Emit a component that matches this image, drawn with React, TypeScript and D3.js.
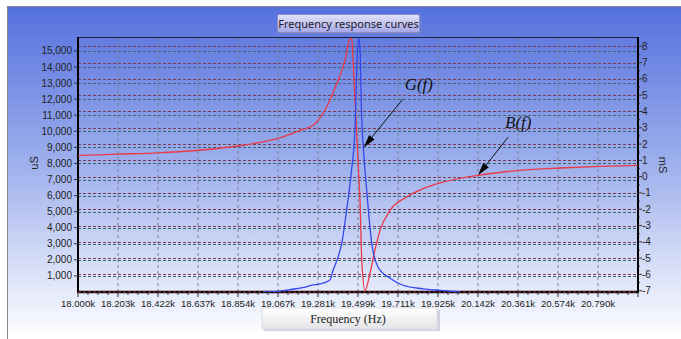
import React, { useEffect, useRef } from 'react';
import * as d3 from 'd3';

// x axis tick values (Hz) as printed on the chart, plus the right edge of the plot
const xTickHz = [18000, 18203, 18422, 18637, 18854, 19067, 19281, 19499, 19711, 19925, 20142, 20361, 20574, 20790];
const xEndHz = 21005;

const leftTicks = [1000, 2000, 3000, 4000, 5000, 6000, 7000, 8000, 9000, 10000, 11000, 12000, 13000, 14000, 15000];
const rightTicks = [-7, -6, -5, -4, -3, -2, -1, 0, 1, 2, 3, 4, 5, 6, 7, 8];

// B(f), susceptance in mS (right axis)
const bFreq = [18000, 18203, 18422, 18637, 18854, 18960, 19067, 19185, 19265, 19328, 19383, 19428, 19455, 19465, 19473, 19488, 19499, 19510, 19519, 19536, 19563, 19589, 19616, 19669, 19758, 19845, 19936, 20142, 20372, 20585, 20801, 21005];
const bValue = [1.30, 1.38, 1.46, 1.62, 1.88, 2.08, 2.35, 2.84, 3.25, 4.27, 5.70, 7.13, 8.47, 8.50, 6.95, 3.5, 1.0, -1.64, -5.1, -7.0, -5.9, -4.5, -3.3, -2.07, -1.25, -0.74, -0.39, 0.08, 0.39, 0.53, 0.63, 0.69];

// G(f), conductance in uS (left axis)
const gFreq = [18987, 19067, 19131, 19206, 19249, 19291, 19346, 19363, 19385, 19410, 19437, 19464, 19482, 19496, 19503, 19510, 19518, 19527, 19536, 19554, 19572, 19605, 19669, 19738, 19845, 19936, 20044];
const gValue = [0, 40, 150, 290, 430, 500, 750, 1350, 2000, 3000, 5100, 7600, 10000, 15000, 15800, 15000, 11000, 9000, 7600, 5100, 3000, 1560, 850, 420, 200, 100, 0];

// annotation anchor points on the curves
const gLabel = { text: 'G(f)', hz: 19529, value: 9000 };
const bLabel = { text: 'B(f)', hz: 20142, value: 0.08 };

const App = () => {
    const svgRef = useRef(null);

    useEffect(() => {
        const svg = d3.select(svgRef.current);
        svg.selectAll('*').remove();

        const W = 681, H = 339;
        const left = 78, right = 638, top = 37, bottom = 292;

        const defs = svg.append('defs');
        const bg = defs.append('linearGradient').attr('id', 'bg')
            .attr('x1', 0).attr('y1', 0).attr('x2', 0).attr('y2', 1);
        bg.append('stop').attr('offset', '0%').attr('stop-color', '#5470de');
        bg.append('stop').attr('offset', '45%').attr('stop-color', '#98abeb');
        bg.append('stop').attr('offset', '100%').attr('stop-color', '#fbfcff');
        const tg = defs.append('linearGradient').attr('id', 'titleg')
            .attr('x1', 0).attr('y1', 0).attr('x2', 0).attr('y2', 1);
        tg.append('stop').attr('offset', '0%').attr('stop-color', '#e2e2fa');
        tg.append('stop').attr('offset', '100%').attr('stop-color', '#a6a6e6');
        const xg = defs.append('linearGradient').attr('id', 'xlabg')
            .attr('x1', 0).attr('y1', 0).attr('x2', 0).attr('y2', 1);
        xg.append('stop').attr('offset', '0%').attr('stop-color', '#ffffff');
        xg.append('stop').attr('offset', '100%').attr('stop-color', '#e4e4e8');
        defs.append('clipPath').attr('id', 'plotclip')
            .append('rect').attr('x', left).attr('y', top).attr('width', right - left).attr('height', bottom - top);

        // background panel
        svg.append('rect').attr('width', W).attr('height', H).attr('fill', '#fff');
        svg.append('rect').attr('x', 7).attr('y', 6).attr('width', W - 7).attr('height', 326).attr('fill', 'url(#bg)');
        svg.append('path').attr('d', `M7.5,${H}V6.5H${W}`).attr('fill', 'none').attr('stroke', '#8a8a8a');

        // scales
        const xDomain = [...xTickHz, xEndHz];
        const x = d3.scaleLinear()
            .domain(xDomain)
            .range(xDomain.map((d, i) => left + i * (right - left) / (xDomain.length - 1)));
        const yL = d3.scaleLinear().domain([0, 15870]).range([bottom, top]);
        const yR = d3.scaleLinear().domain([-7.08, 8.57]).range([bottom, top]);

        // vertical grid
        svg.append('g').selectAll('line').data(xTickHz.slice(1)).enter().append('line')
            .attr('x1', d => x(d)).attr('x2', d => x(d))
            .attr('y1', top).attr('y2', bottom)
            .attr('stroke', '#7d7f92').attr('stroke-dasharray', '3,3').attr('stroke-width', 1);

        // horizontal grids, one per axis
        svg.append('g').selectAll('line').data(rightTicks).enter().append('line')
            .attr('x1', left).attr('x2', right)
            .attr('y1', d => Math.round(yR(d)) + 0.5).attr('y2', d => Math.round(yR(d)) + 0.5)
            .attr('stroke', '#7a3a50').attr('stroke-dasharray', '3,2').attr('stroke-width', 1.2);
        svg.append('g').selectAll('line').data(leftTicks).enter().append('line')
            .attr('x1', left).attr('x2', right)
            .attr('y1', d => Math.round(yL(d)) + 0.5).attr('y2', d => Math.round(yL(d)) + 0.5)
            .attr('stroke', '#3b6670').attr('stroke-dasharray', '3,2').attr('stroke-width', 1.2);

        // frame
        svg.append('line').attr('x1', left).attr('x2', right).attr('y1', top + 0.5).attr('y2', top + 0.5)
            .attr('stroke', '#1a2040').attr('stroke-width', 1);
        svg.append('line').attr('x1', left).attr('x2', left).attr('y1', top).attr('y2', bottom + 1)
            .attr('stroke', '#000').attr('stroke-width', 2);
        svg.append('line').attr('x1', right).attr('x2', right).attr('y1', top).attr('y2', bottom + 1)
            .attr('stroke', '#000').attr('stroke-width', 2);
        svg.append('line').attr('x1', left).attr('x2', right).attr('y1', bottom).attr('y2', bottom)
            .attr('stroke', '#000').attr('stroke-width', 2.5);
        svg.append('line').attr('x1', left).attr('x2', right).attr('y1', bottom).attr('y2', bottom)
            .attr('stroke', '#b03040').attr('stroke-dasharray', '3,2').attr('stroke-width', 1);

        // x axis ticks
        const minor = [];
        for (let i = 0; i < xDomain.length - 1; i++) {
            const a = x(xDomain[i]), b = x(xDomain[i + 1]);
            for (let k = 1; k < 4; k++) minor.push(a + (b - a) * k / 4);
        }
        svg.append('g').selectAll('line').data(minor).enter().append('line')
            .attr('x1', d => d).attr('x2', d => d).attr('y1', bottom).attr('y2', bottom + 3)
            .attr('stroke', '#333').attr('stroke-width', 1);
        svg.append('g').selectAll('line').data(xDomain).enter().append('line')
            .attr('x1', d => x(d)).attr('x2', d => x(d)).attr('y1', bottom).attr('y2', bottom + 5)
            .attr('stroke', '#333').attr('stroke-width', 1);
        svg.append('g').selectAll('text').data(xTickHz).enter().append('text')
            .attr('x', d => x(d)).attr('y', bottom + 15)
            .attr('text-anchor', 'middle')
            .attr('font-family', 'Liberation Sans, Arial, sans-serif').attr('font-size', 9.6)
            .attr('fill', '#222')
            .text(d => d3.format('.3f')(d / 1000) + 'k');

        // left axis
        svg.append('g').selectAll('line').data(leftTicks).enter().append('line')
            .attr('x1', left - 4).attr('x2', left).attr('y1', d => yL(d)).attr('y2', d => yL(d))
            .attr('stroke', '#333');
        svg.append('g').selectAll('text').data(leftTicks).enter().append('text')
            .attr('x', left - 6).attr('y', d => yL(d) + 3.5)
            .attr('text-anchor', 'end')
            .attr('font-family', 'Liberation Sans, Arial, sans-serif').attr('font-size', 10)
            .attr('fill', '#222')
            .text(d => d3.format(',')(d));

        // right axis
        svg.append('g').selectAll('line').data(rightTicks).enter().append('line')
            .attr('x1', right).attr('x2', right + 4).attr('y1', d => yR(d)).attr('y2', d => yR(d))
            .attr('stroke', '#333');
        svg.append('g').selectAll('line').data(rightTicks.slice(0, -1)).enter().append('line')
            .attr('x1', right).attr('x2', right + 2).attr('y1', d => yR(d + 0.5)).attr('y2', d => yR(d + 0.5))
            .attr('stroke', '#333');
        svg.append('g').selectAll('text').data(rightTicks).enter().append('text')
            .attr('x', right + 4).attr('y', d => yR(d) + 3.5)
            .attr('font-family', 'Liberation Sans, Arial, sans-serif').attr('font-size', 10)
            .attr('fill', '#222')
            .text(d => d);

        // axis titles
        svg.append('text').attr('transform', 'translate(38,163) rotate(-90)')
            .attr('text-anchor', 'middle')
            .attr('font-family', 'Liberation Sans, Arial, sans-serif').attr('font-size', 11)
            .attr('fill', '#222').text('uS');
        svg.append('text').attr('transform', 'translate(659,165) rotate(90)')
            .attr('text-anchor', 'middle')
            .attr('font-family', 'Liberation Sans, Arial, sans-serif').attr('font-size', 11)
            .attr('fill', '#222').text('mS');

        // curves
        const plot = svg.append('g').attr('clip-path', 'url(#plotclip)');
        const bLine = d3.line().x(d => x(d[0])).y(d => yR(d[1])).curve(d3.curveMonotoneX);
        const gLine = d3.line().x(d => x(d[0])).y(d => yL(d[1])).curve(d3.curveMonotoneX);
        plot.append('path').attr('d', bLine(bFreq.map((f, i) => [f, bValue[i]])))
            .attr('fill', 'none').attr('stroke', '#ea3a46').attr('stroke-width', 1.3);
        plot.append('path').attr('d', gLine(gFreq.map((f, i) => [f, gValue[i]])))
            .attr('fill', 'none').attr('stroke', '#3347ee').attr('stroke-width', 1.3);

        // annotations
        const annotate = (tx, ty, sx, sy, label, lx, ly) => {
            const dx = tx - sx, dy = ty - sy;
            const len = Math.sqrt(dx * dx + dy * dy);
            const ux = dx / len, uy = dy / len;
            const hl = 13, hw = 3.5;
            const bx = tx - ux * hl, by = ty - uy * hl;
            svg.append('line').attr('x1', sx).attr('y1', sy).attr('x2', bx).attr('y2', by)
                .attr('stroke', '#111').attr('stroke-width', 1);
            svg.append('path')
                .attr('d', `M${tx},${ty}L${bx - uy * hw},${by + ux * hw}L${bx + uy * hw},${by - ux * hw}Z`)
                .attr('fill', '#000');
            svg.append('text').attr('x', lx).attr('y', ly)
                .attr('font-family', 'Liberation Serif, Times New Roman, serif')
                .attr('font-style', 'italic').attr('font-size', 17)
                .attr('fill', '#111').text(label);
        };
        const gx = x(gLabel.hz), gy = yL(gLabel.value);
        annotate(gx, gy, gx + 39, gy - 48, gLabel.text, gx + 41, gy - 57);
        const bx2 = x(bLabel.hz), by2 = yR(bLabel.value);
        annotate(bx2, by2, bx2 + 30, by2 - 38, bLabel.text, bx2 + 27, by2 - 47);

        // title box
        svg.append('rect').attr('x', 279).attr('y', 16).attr('width', 143).attr('height', 19)
            .attr('fill', '#7080c8').attr('opacity', 0.5);
        svg.append('rect').attr('x', 277.5).attr('y', 14.5).attr('width', 142).attr('height', 18)
            .attr('rx', 1.5).attr('fill', 'url(#titleg)').attr('stroke', '#8c8cc4');
        svg.append('text').attr('x', 348.5).attr('y', 27.5)
            .attr('text-anchor', 'middle')
            .attr('font-family', 'Noto Sans, Open Sans, sans-serif').attr('font-size', 11)
            .attr('fill', '#1a1a2a').text('Frequency response curves');

        // x axis title box
        svg.append('rect').attr('x', 264).attr('y', 310).attr('width', 176).attr('height', 21)
            .attr('fill', '#b8bcc8').attr('opacity', 0.6);
        svg.append('rect').attr('x', 262).attr('y', 308).attr('width', 175).attr('height', 21)
            .attr('fill', 'url(#xlabg)').attr('stroke', '#e0e0e6');
        svg.append('text').attr('x', 348).attr('y', 323)
            .attr('text-anchor', 'middle')
            .attr('font-family', 'Liberation Serif, Times New Roman, serif').attr('font-size', 12)
            .attr('fill', '#222').text('Frequency (Hz)');
    }, []);

    return (
        <svg ref={svgRef} width="681" height="339"
            style={{ position: 'absolute', left: 0, top: 0, display: 'block' }}></svg>
    );
};

export default App;
